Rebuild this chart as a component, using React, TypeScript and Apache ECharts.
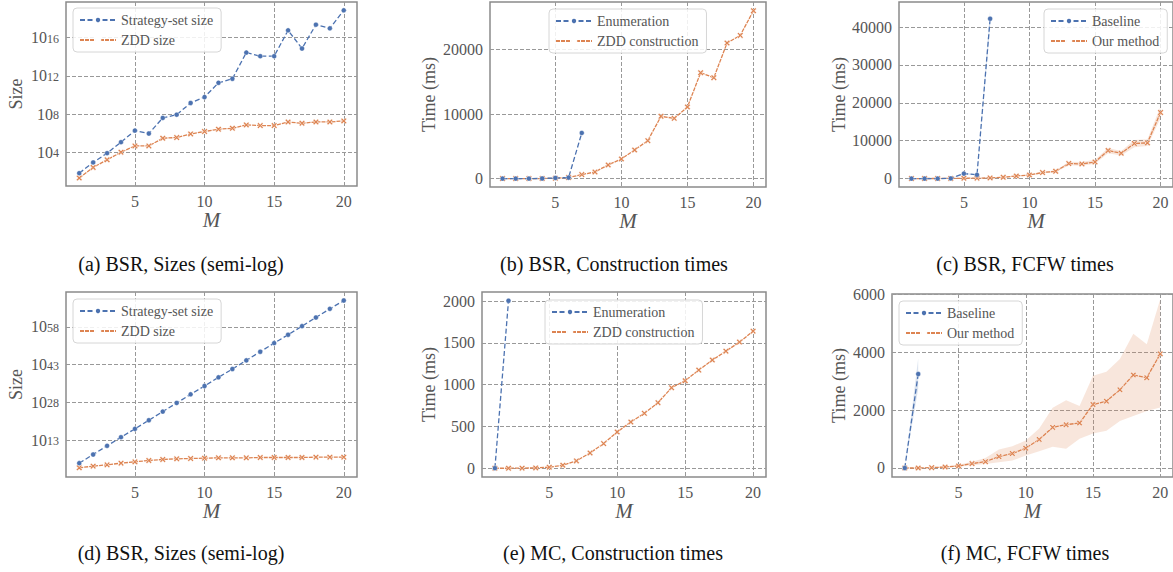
import React, { useEffect, useRef } from "react";
import * as echarts from "echarts";

// ---------- data ----------
const M = [1, 2, 3, 4, 5, 6, 7, 8, 9, 10, 11, 12, 13, 14, 15, 16, 17, 18, 19, 20];
const xTicks = [5, 10, 15, 20];

// (a) BSR sizes, log10 of size
const aStrategyLog10 = [1.84, 2.96, 3.93, 5.08, 6.29, 5.98, 7.61, 7.95, 9.17, 9.79, 11.28, 11.7, 14.44, 14.06, 14.06, 16.76, 14.86, 17.35, 16.97, 18.85];
const aZddLog10 = [1.33, 2.44, 3.24, 4.03, 4.69, 4.69, 5.49, 5.56, 5.94, 6.19, 6.43, 6.53, 6.88, 6.81, 6.81, 7.19, 7.05, 7.19, 7.19, 7.3];
const aTicks = [4, 8, 12, 16];

// (b) BSR construction times (ms)
const bEnumeration = [0, 0, 5, 20, 100, 150, 7080];
const bZdd = [0, 0, 0, 10, 50, 155, 620, 1030, 2120, 3050, 4440, 5890, 9660, 9350, 11110, 16430, 15660, 21030, 22220, 26050];
const bTicks = [0, 10000, 20000];

// (c) BSR FCFW times (ms)
const cBaseline = [0, 0, 0, 50, 1320, 1000, 42200];
const cBaselineLow = [0, 0, 0, 30, 1100, 850, 40000];
const cBaselineHigh = [0, 0, 0, 80, 1550, 1150, 44500];
const cOurs = [10, 20, 30, 50, 90, 110, 180, 340, 690, 950, 1590, 1930, 3970, 3880, 4390, 7400, 6690, 9260, 9420, 17440];
const cOursLow = [5, 10, 20, 35, 70, 90, 150, 290, 600, 840, 1400, 1700, 3500, 3400, 3900, 6700, 6100, 8300, 8600, 15900];
const cOursHigh = [15, 30, 40, 65, 110, 130, 210, 390, 780, 1060, 1780, 2150, 4450, 4400, 5000, 8100, 7300, 10200, 10400, 19000];
const cTicks = [0, 10000, 20000, 30000, 40000];

// (d) BSR sizes, log10 of size
const dStrategyLog10 = [3.9, 7.33, 10.76, 14.19, 17.49, 20.92, 24.35, 27.78, 31.21, 34.5, 37.94, 41.24, 44.67, 48.1, 51.53, 54.83, 58.26, 61.69, 65.12, 68.42];
const dZddLog10 = [2.05, 2.71, 3.23, 3.9, 4.42, 4.95, 5.35, 5.61, 5.74, 5.87, 6.0, 6.0, 6.0, 6.14, 6.14, 6.14, 6.14, 6.27, 6.27, 6.27];
const dTicks = [13, 28, 43, 58];

// (e) MC construction times (ms)
const eEnumeration = [1, 2005];
const eZdd = [0, 0, 1, 4, 12, 36, 88, 183, 295, 434, 554, 657, 785, 964, 1048, 1175, 1295, 1402, 1510, 1641];
const eTicks = [0, 500, 1000, 1500, 2000];

// (f) MC FCFW times (ms)
const fBaseline = [0, 3246];
const fBaselineLow = [0, 2750];
const fBaselineHigh = [0, 3790];
const fOurs = [0, 0, 12, 35, 70, 151, 220, 394, 499, 684, 986, 1403, 1496, 1554, 2191, 2307, 2701, 3212, 3119, 3942];
const fOursLow = [0, 0, 5, 20, 40, 93, 139, 197, 255, 429, 580, 730, 661, 1009, 1194, 1287, 1623, 1797, 1971, 2087];
const fOursHigh = [0, 0, 20, 50, 116, 220, 348, 638, 754, 946, 1362, 2077, 2343, 2145, 3188, 3327, 3768, 4639, 4270, 5828];
const fTicks = [0, 2000, 4000, 6000];

const captions = [
  "(a) BSR, Sizes (semi-log)",
  "(b) BSR, Construction times",
  "(c) BSR, FCFW times",
  "(d) BSR, Sizes (semi-log)",
  "(e) MC, Construction times",
  "(f) MC, FCFW times",
];

// ---------- style ----------
const FONT = "Liberation Serif";
const BLUE = "#4C72B0";
const ORANGE = "#DD8452";
const TXT = "#555555";
const X_SYMBOL = "path://M0,2L2,0L5,3L8,0L10,2L7,5L10,8L8,10L5,7L2,10L0,8L3,5Z";

const pts = (vals: number[]) => vals.map((v, i) => [M[i], v]);

function blueLine(name: string, vals: number[], idx: number) {
  return {
    type: "line", name, xAxisIndex: idx, yAxisIndex: idx, data: pts(vals),
    symbol: "circle", symbolSize: 5, z: 5,
    lineStyle: { color: BLUE, width: 1.3, type: [5, 2.5] },
    itemStyle: { color: BLUE, borderColor: "#fff", borderWidth: 0.4 },
  };
}
function orangeLine(name: string, vals: number[], idx: number) {
  return {
    type: "line", name, xAxisIndex: idx, yAxisIndex: idx, data: pts(vals),
    symbol: X_SYMBOL, symbolSize: 6, z: 4,
    lineStyle: { color: ORANGE, width: 1.3, type: [4, 1] },
    itemStyle: { color: ORANGE, borderColor: "#fff", borderWidth: 0.5 },
  };
}
function band(lo: number[], hi: number[], idx: number, color: string) {
  return {
    type: "custom", xAxisIndex: idx, yAxisIndex: idx, data: [[1, 0]], silent: true, z: 1,
    renderItem: (_p: any, api: any) => {
      const up = hi.map((v, i) => api.coord([M[i], v]));
      const dn = lo.map((v, i) => api.coord([M[i], v])).reverse();
      return { type: "polygon", shape: { points: up.concat(dn) }, style: { fill: color } };
    },
  };
}

const grids = [
  { left: 66, top: 2, width: 291, height: 184 },
  { left: 490, top: 2, width: 276, height: 185 },
  { left: 899, top: 2, width: 276, height: 185 },
  { left: 66, top: 292, width: 291, height: 185 },
  { left: 482, top: 292, width: 284, height: 185 },
  { left: 892, top: 294, width: 283, height: 183 },
];

const yDefs = [
  { min: 0.5, max: 19.72, ticks: aTicks, log: true, name: "Size", gap: 41 },
  { min: -1305, max: 27400, ticks: bTicks, log: false, name: "Time (ms)", gap: 52 },
  { min: -2220, max: 46620, ticks: cTicks, log: false, name: "Time (ms)", gap: 51 },
  { min: -1.6, max: 71.8, ticks: dTicks, log: true, name: "Size", gap: 41 },
  { min: -105, max: 2110, ticks: eTicks, log: false, name: "Time (ms)", gap: 44 },
  { min: -311, max: 6010, ticks: fTicks, log: false, name: "Time (ms)", gap: 44 },
];

const legendDefs = [
  { left: 73, top: 8, data: ["Strategy-set size", "ZDD size"] },
  { left: 549, top: 9, data: ["Enumeration", "ZDD construction"] },
  { left: 1044, top: 9, data: ["Baseline", "Our method"] },
  { left: 73, top: 299, data: ["Strategy-set size", "ZDD size"] },
  { left: 545, top: 300, data: ["Enumeration", "ZDD construction"] },
  { left: 899, top: 301, data: ["Baseline", "Our method"] },
];

const captionPos = [
  [181, 264], [614, 264], [1025, 264],
  [181, 553], [613, 553], [1025, 553],
];

const splitLine = { show: true, lineStyle: { color: "#999999", type: [4, 2], width: 1 } };

function buildOption() {
  const xAxis = grids.map((_, i) => ({
    type: "value", gridIndex: i, min: 0.05, max: 20.95,
    axisLine: { show: false },
    axisTick: { show: false, customValues: xTicks },
    axisLabel: { customValues: xTicks, margin: 7, fontSize: 16, color: TXT, fontFamily: FONT },
    splitLine,
    name: "M", nameLocation: "middle", nameGap: 19,
    nameTextStyle: { fontSize: 21, fontStyle: "italic", color: TXT, fontFamily: FONT },
  }));
  const yAxis = yDefs.map((d, i) => ({
    type: "value", gridIndex: i, min: d.min, max: d.max,
    axisLine: { show: false },
    axisTick: { show: false, customValues: d.ticks },
    axisLabel: {
      customValues: d.ticks, margin: 7, fontSize: 16, color: TXT, fontFamily: FONT,
      formatter: d.log ? (v: number) => `{b|10}{s|${Math.round(v)}}` : (v: number) => String(Math.round(v)),
      rich: {
        b: { fontSize: 16, lineHeight: 16, color: TXT, fontFamily: FONT, verticalAlign: "middle", padding: [6, 0, 6, 0] },
        s: { fontSize: 12, lineHeight: 12, color: TXT, fontFamily: FONT, verticalAlign: "top", padding: [3, 0, 0, 0] },
      },
    },
    splitLine,
    name: d.name, nameLocation: "middle", nameGap: d.gap,
    nameTextStyle: { fontSize: 18, color: TXT, fontFamily: FONT },
  }));

  const series: any[] = [
    blueLine("Strategy-set size", aStrategyLog10, 0),
    orangeLine("ZDD size", aZddLog10, 0),
    blueLine("Enumeration", bEnumeration, 1),
    orangeLine("ZDD construction", bZdd, 1),
    band(cBaselineLow, cBaselineHigh, 2, "rgba(76,114,176,0.2)"),
    band(cOursLow, cOursHigh, 2, "rgba(221,132,82,0.2)"),
    blueLine("Baseline", cBaseline, 2),
    orangeLine("Our method", cOurs, 2),
    blueLine("Strategy-set size", dStrategyLog10, 3),
    orangeLine("ZDD size", dZddLog10, 3),
    blueLine("Enumeration", eEnumeration, 4),
    orangeLine("ZDD construction", eZdd, 4),
    band(fBaselineLow, fBaselineHigh, 5, "rgba(76,114,176,0.2)"),
    band(fOursLow, fOursHigh, 5, "rgba(221,132,82,0.2)"),
    blueLine("Baseline", fBaseline, 5),
    orangeLine("Our method", fOurs, 5),
  ];

  const legend = legendDefs.map((l) => ({
    left: l.left, top: l.top, orient: "vertical", data: l.data,
    itemWidth: 36, itemHeight: 8, itemGap: 6,
    textStyle: { fontSize: 14, color: TXT, fontFamily: FONT },
    backgroundColor: "rgba(255,255,255,0.85)", borderColor: "#d6d6d6", borderWidth: 1, borderRadius: 4,
    padding: [5, 8, 5, 6], selectedMode: false,
  }));

  const graphic = captions.map((t, i) => ({
    type: "text", x: captionPos[i][0], y: captionPos[i][1], silent: true,
    style: { text: t, fontSize: 20, fontFamily: FONT, fill: "#111", align: "center", verticalAlign: "middle" },
  }));

  return {
    animation: false,
    backgroundColor: "#fff",
    grid: grids.map((g) => ({ ...g, show: true, borderColor: "#8a8a8a", borderWidth: 1.5, backgroundColor: "transparent", containLabel: false })),
    xAxis, yAxis, series, legend, graphic,
  };
}

export default function App() {
  const ref = useRef<HTMLDivElement>(null);
  useEffect(() => {
    if (!ref.current) return;
    const chart = echarts.init(ref.current, undefined, { renderer: "svg" });
    chart.setOption(buildOption() as any);
    return () => chart.dispose();
  }, []);
  return <div ref={ref} style={{ position: "fixed", left: 0, top: 0, width: 1173, height: 572 }} />;
}
